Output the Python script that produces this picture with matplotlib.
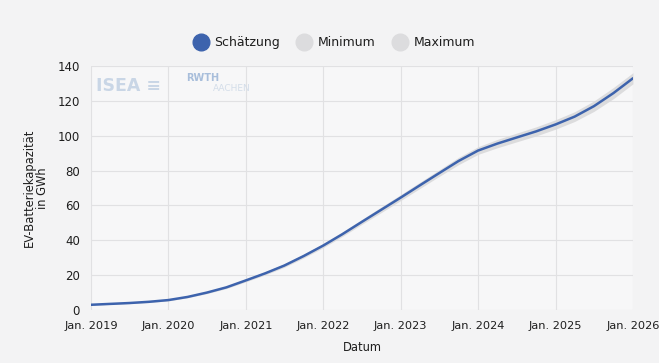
import matplotlib
matplotlib.use("Agg")
import matplotlib.pyplot as plt
import numpy as np
import pandas as pd
from matplotlib.lines import Line2D

plt.rcParams['font.family'] = ['DejaVu Sans']

dates = pd.to_datetime([
    "2019-01-01", "2019-04-01", "2019-07-01", "2019-10-01",
    "2020-01-01", "2020-04-01", "2020-07-01", "2020-10-01",
    "2021-01-01", "2021-04-01", "2021-07-01", "2021-10-01",
    "2022-01-01", "2022-04-01", "2022-07-01", "2022-10-01",
    "2023-01-01", "2023-04-01", "2023-07-01", "2023-10-01",
    "2024-01-01", "2024-04-01", "2024-07-01", "2024-10-01",
    "2025-01-01", "2025-04-01", "2025-07-01", "2025-10-01",
    "2026-01-01"])
schaetzung = [3.0, 3.5, 4.0, 4.7,
              5.7, 7.5, 10.0, 13.0,
              17.0, 21.0, 25.5, 31.0,
              37.0, 43.5, 50.5, 57.5,
              64.5, 71.5, 78.5, 85.5,
              91.5, 95.5, 99.0, 102.5,
              106.5, 111.0, 117.0, 124.5,
              133.0]
minimum = [2.7, 3.2, 3.7, 4.3,
           5.2, 7.0, 9.4, 12.3,
           16.2, 20.1, 24.5, 29.9,
           35.8, 42.2, 49.1, 55.9,
           62.8, 69.7, 76.6, 83.4,
           89.3, 93.1, 96.5, 99.9,
           103.8, 108.2, 114.0, 121.3,
           129.8]
maximum = [3.3, 3.8, 4.3, 5.1,
           6.2, 8.0, 10.6, 13.7,
           17.8, 21.9, 26.5, 32.1,
           38.2, 44.8, 51.9, 59.1,
           66.2, 73.3, 80.4, 87.6,
           93.7, 97.9, 101.5, 105.1,
           109.2, 113.8, 120.0, 127.7,
           136.2]
x_ticks = pd.to_datetime(["2019-01-01", "2020-01-01", "2021-01-01", "2022-01-01",
                          "2023-01-01", "2024-01-01", "2025-01-01", "2026-01-01"])
x_ticklabels = ["Jan. 2019", "Jan. 2020", "Jan. 2021", "Jan. 2022",
                "Jan. 2023", "Jan. 2024", "Jan. 2025", "Jan. 2026"]
y_ticks = [0, 20, 40, 60, 80, 100, 120, 140]

line_color = "#3d63ad"
band_color = "#d9d9db"
text_color = "#1e1e1e"

fig = plt.figure(figsize=(6.59, 3.63), dpi=100, facecolor="#f3f3f4")
ax = fig.add_axes([0.138, 0.146, 0.8225, 0.672])
ax.set_facecolor("#f7f7f8")

ax.fill_between(dates, minimum, maximum, color=band_color, alpha=0.9, lw=0, zorder=2)
ax.plot(dates, schaetzung, color=line_color, lw=1.8, zorder=3, solid_capstyle="round")

ax.set_xlim(x_ticks[0], x_ticks[-1])
ax.set_ylim(0, 140)
ax.set_xticks(x_ticks)
ax.set_xticklabels(x_ticklabels)
ax.set_yticks(y_ticks)
ax.tick_params(axis="x", length=0, labelsize=8.2, colors=text_color, pad=8)
ax.tick_params(axis="y", length=0, labelsize=8.5, colors=text_color, pad=8)
ax.grid(True, color="#e1e1e3", lw=0.8)
for s in ax.spines.values():
    s.set_visible(False)
ax.set_axisbelow(True)

ax.set_xlabel("Datum", fontsize=8.3, color=text_color, labelpad=7)
ax.set_ylabel("EV-Batteriekapazität\nin GWh", fontsize=8.3, color=text_color, labelpad=6,
              linespacing=1.05)

# faint logos
ax.text(0.01, 0.92, "ISEA ≡", transform=ax.transAxes, fontsize=12.5, color="#c9d6e6",
        fontweight="bold", va="center", zorder=1)
ax.text(0.175, 0.95, "RWTH", transform=ax.transAxes, fontsize=7, color="#a8bedb",
        fontweight="bold", va="center", zorder=1)
ax.text(0.225, 0.91, "AACHEN", transform=ax.transAxes, fontsize=6.5, color="#d3dde9",
        va="center", zorder=1)

handles = [
    Line2D([], [], marker="o", ls="", markersize=12, markerfacecolor=line_color,
           markeredgecolor=line_color),
    Line2D([], [], marker="o", ls="", markersize=12, markerfacecolor="#dcdcde",
           markeredgecolor="#dcdcde"),
    Line2D([], [], marker="o", ls="", markersize=12, markerfacecolor="#dcdcde",
           markeredgecolor="#dcdcde"),
]
fig.legend(handles, ["Schätzung", "Minimum", "Maximum"], loc="center",
           bbox_to_anchor=(0.503, 0.883), ncol=3, frameon=False, fontsize=9,
           handletextpad=0.05, columnspacing=1.0, labelcolor=text_color)

fig.savefig("out.png", dpi=100, facecolor=fig.get_facecolor())
